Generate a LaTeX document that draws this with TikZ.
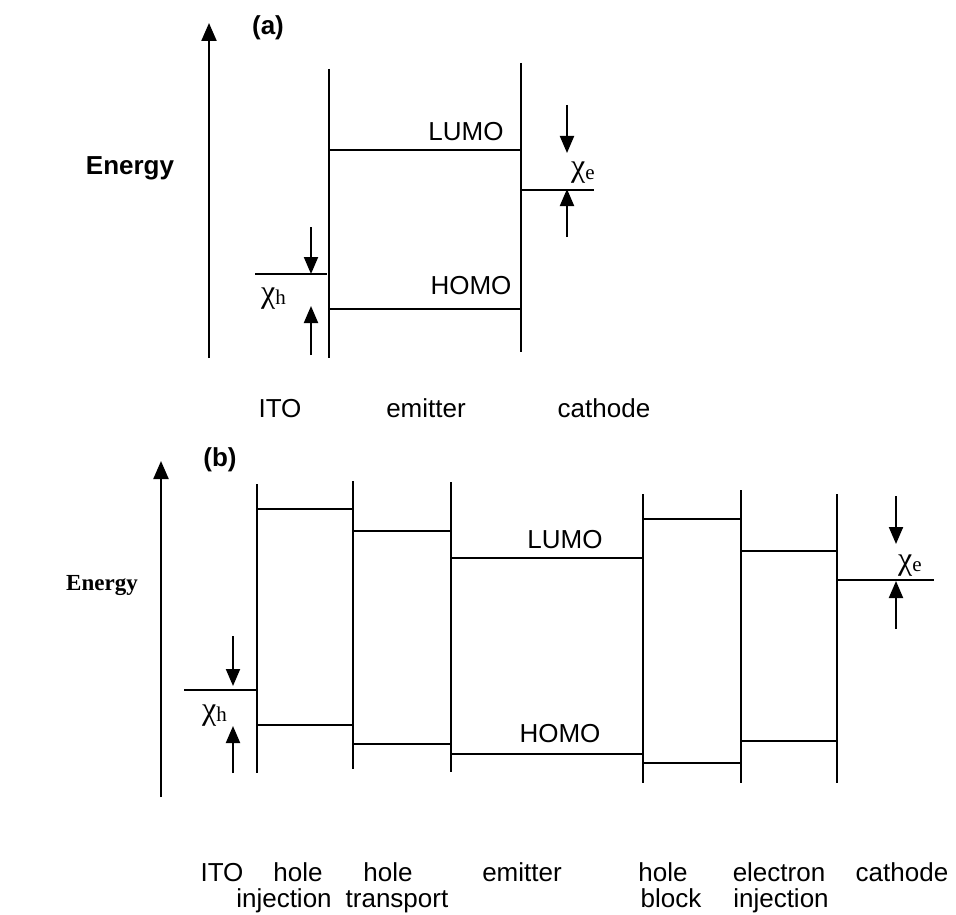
\documentclass[tikz,border=0pt]{standalone}
\usepackage{fontspec}
\setmainfont{Liberation Sans}
\newfontfamily\timesf{Liberation Serif}
\usetikzlibrary{arrows.meta}
\begin{document}
\begin{tikzpicture}[x=1pt,y=-1pt,
  wall/.style={line width=2.2pt},
  lvl/.style={line width=2pt},
  axisarrow/.style={line width=2.2pt,-{Triangle[width=15pt,length=18pt]}},
  gaparrow/.style={line width=2pt,-{Triangle[width=14pt,length=17pt]}},
  lab/.style={inner sep=0pt,anchor=base,font=\fontsize{26}{28}\selectfont},
  boldlab/.style={inner sep=0pt,anchor=base,font=\fontsize{26}{28}\selectfont\bfseries},
  chilab/.style={inner sep=0pt,anchor=base west,font=\timesf\fontsize{32}{34}\selectfont}
]
\useasboundingbox (0,0) rectangle (956,915);
\newcommand{\chisub}[1]{χ\raisebox{-2pt}{\fontsize{21}{22}\selectfont #1}}

% ================= (a) =================
\coordinate (aAxB) at (209,358); \coordinate (aAxT) at (209,23);
\draw[axisarrow] (aAxB) -- (aAxT);
\node[boldlab] (aTag) at (268,35) {(a)};
\node[boldlab] (aEnergy) at (130,175) {Energy};

\coordinate (aW1t) at (329,69);  \coordinate (aW1b) at (329,358);
\coordinate (aW2t) at (521,63);  \coordinate (aW2b) at (521,352);
\draw[wall] (aW1t) -- (aW1b);
\draw[wall] (aW2t) -- (aW2b);
\draw[lvl] (329,150) -- (521,150);
\draw[lvl] (329,309) -- (521,309);
\node[lab] (aLUMO) at (466,141) {LUMO};
\node[lab] (aHOMO) at (471,294) {HOMO};

% chi_e
\coordinate (aCe1) at (521,190); \coordinate (aCe2) at (594,190);
\draw[lvl] (aCe1) -- (aCe2);
\coordinate (aCeT) at (567,105); \coordinate (aCeTip1) at (567,153);
\coordinate (aCeB) at (567,237); \coordinate (aCeTip2) at (567,189);
\draw[gaparrow] (aCeT) -- (aCeTip1);
\draw[gaparrow] (aCeB) -- (aCeTip2);
\node[chilab] (aChie) at (571,177) {\chisub{e}};

% chi_h
\coordinate (aCh1) at (255,274); \coordinate (aCh2) at (327,274);
\draw[lvl] (aCh1) -- (aCh2);
\coordinate (aChT) at (311,227); \coordinate (aChTip1) at (311,274);
\coordinate (aChB) at (311,355); \coordinate (aChTip2) at (311,306);
\draw[gaparrow] (aChT) -- (aChTip1);
\draw[gaparrow] (aChB) -- (aChTip2);
\node[chilab] (aChih) at (261,302) {\chisub{h}};

\node[lab] (aITO) at (280,417) {ITO};
\node[lab] (aEmit) at (426,417) {emitter};
\node[lab] (aCath) at (604,417) {cathode};

% ================= (b) =================
\coordinate (bAxB) at (161,797); \coordinate (bAxT) at (161,461);
\draw[axisarrow] (bAxB) -- (bAxT);
\node[boldlab] (bTag) at (220,466) {(b)};
\node[inner sep=0pt,anchor=base,font=\timesf\fontsize{23}{25}\selectfont\bfseries] (bEnergy) at (102,590) {Energy};

\draw[wall] (257,484) -- (257,773);
\draw[wall] (353,481) -- (353,769);
\draw[wall] (451,482) -- (451,772);
\draw[wall] (643,494) -- (643,783);
\draw[wall] (741,490) -- (741,783);
\draw[wall] (837,494) -- (837,783);

% levels
\draw[lvl] (257,509) -- (353,509);
\draw[lvl] (257,725) -- (353,725);
\draw[lvl] (353,531) -- (451,531);
\draw[lvl] (353,744) -- (451,744);
\draw[lvl] (451,558) -- (643,558);
\draw[lvl] (451,754) -- (643,754);
\draw[lvl] (643,519) -- (741,519);
\draw[lvl] (643,763) -- (741,763);
\draw[lvl] (741,551) -- (837,551);
\draw[lvl] (741,741) -- (837,741);
\node[lab] (bLUMO) at (565,548) {LUMO};
\node[lab] (bHOMO) at (560,742) {HOMO};

% chi_e
\coordinate (bCe1) at (837,580); \coordinate (bCe2) at (934,580);
\draw[lvl] (bCe1) -- (bCe2);
\coordinate (bCeT) at (896,496); \coordinate (bCeTip1) at (896,544);
\coordinate (bCeB) at (896,629); \coordinate (bCeTip2) at (896,581);
\draw[gaparrow] (bCeT) -- (bCeTip1);
\draw[gaparrow] (bCeB) -- (bCeTip2);
\node[chilab] (bChie) at (898,569) {\chisub{e}};

% chi_h
\coordinate (bCh1) at (184,690); \coordinate (bCh2) at (257,690);
\draw[lvl] (bCh1) -- (bCh2);
\coordinate (bChT) at (233,636); \coordinate (bChTip1) at (233,686);
\coordinate (bChB) at (233,773); \coordinate (bChTip2) at (233,726);
\draw[gaparrow] (bChT) -- (bChTip1);
\draw[gaparrow] (bChB) -- (bChTip2);
\node[chilab] (bChih) at (202,719) {\chisub{h}};

% bottom labels
\node[lab] (bITO) at (222,881) {ITO};
\node[lab] (bHole1) at (298,881) {hole};
\node[lab] (bHole2) at (388,881) {hole};
\node[lab] (bEmit) at (522,881) {emitter};
\node[lab] (bHole3) at (663,881) {hole};
\node[lab] (bElec) at (779,881) {electron};
\node[lab] (bCath) at (902,881) {cathode};
\node[lab] (bInj1) at (284,907) {injection};
\node[lab] (bTrans) at (397,907) {transport};
\node[lab] (bBlock) at (671,907) {block};
\node[lab] (bInj2) at (781,907) {injection};
\end{tikzpicture}
\end{document}
